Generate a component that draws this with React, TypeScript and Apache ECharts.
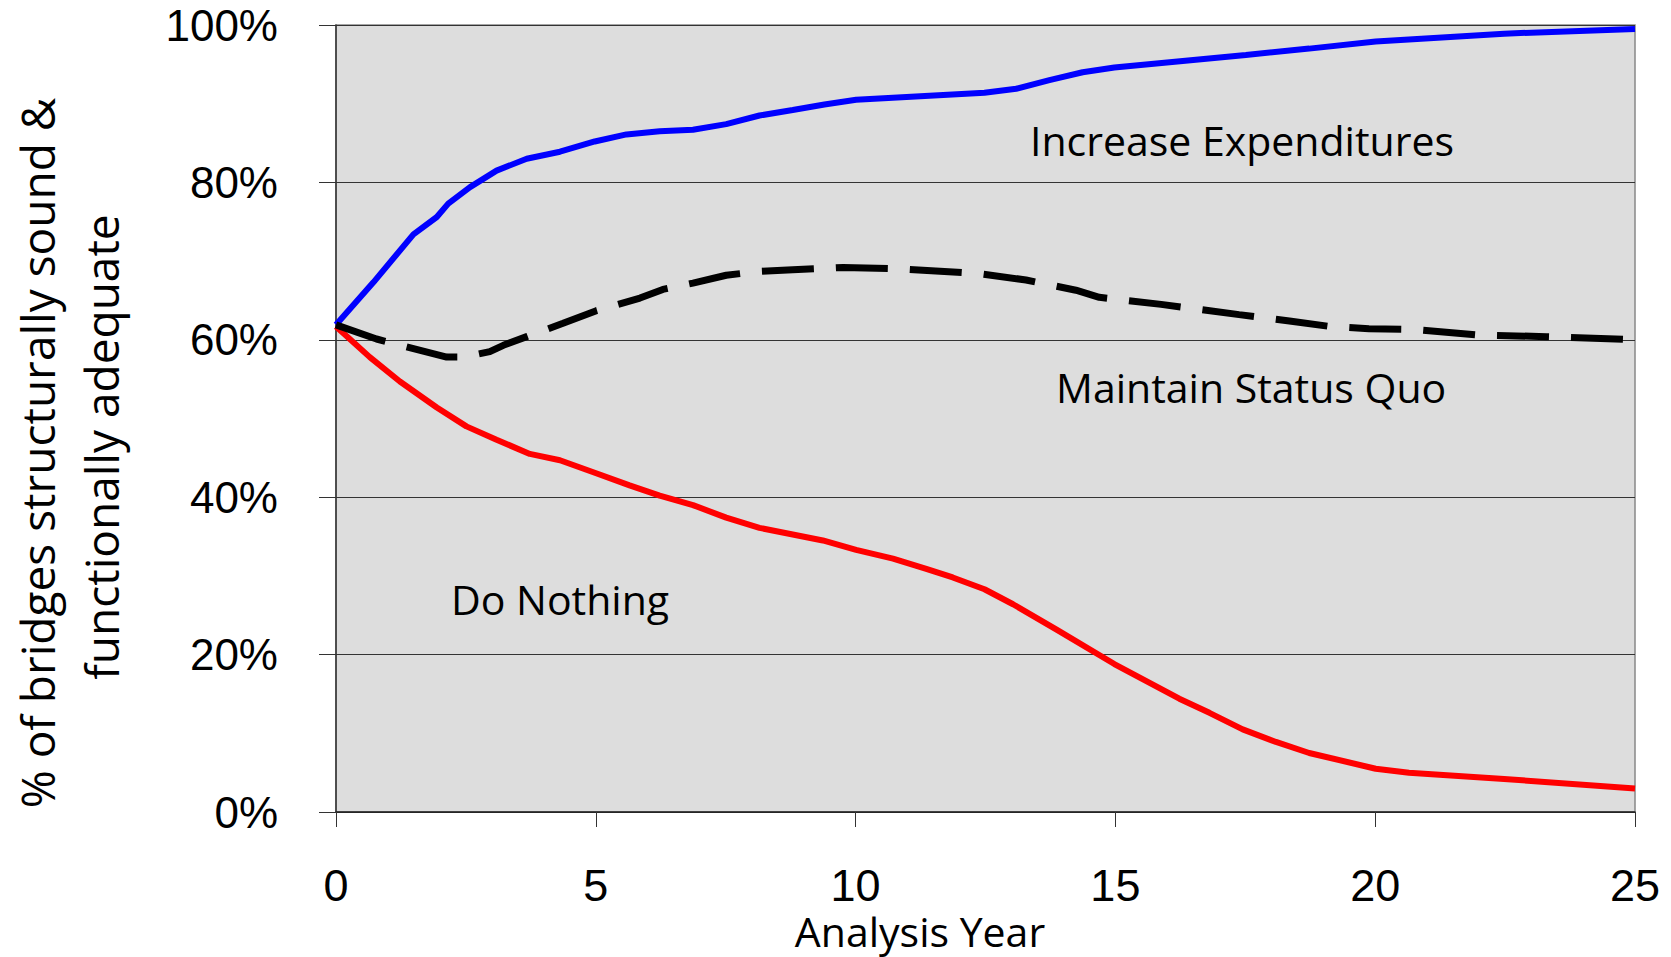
import React, { useEffect, useRef } from "react";
import * as echarts from "echarts";

const xTicks = [0, 5, 10, 15, 20, 25];
const yTicks = [0, 20, 40, 60, 80, 100];

const incYears = [0, 0.72, 1.49, 1.94, 2.16, 2.58, 3.09, 3.67, 4.31, 4.98, 5.59, 6.23, 6.87, 7.51, 8.15, 8.79, 9.4, 10.01, 12.48, 13.09, 13.73, 14.37, 14.98, 17.51, 18.73, 20.01, 22.48, 25];
const incValues = [61.9, 67.3, 73.4, 75.6, 77.3, 79.4, 81.5, 83.0, 83.9, 85.2, 86.1, 86.5, 86.7, 87.4, 88.5, 89.2, 89.9, 90.5, 91.4, 91.9, 93.0, 94.0, 94.6, 96.2, 97.0, 97.9, 98.9, 99.5];

const doYears = [0, 0.65, 1.23, 1.94, 2.51, 3.09, 3.73, 4.31, 4.98, 5.65, 6.23, 6.87, 7.51, 8.15, 9.37, 10.01, 10.72, 11.36, 11.87, 12.48, 13.03, 13.86, 14.98, 16.23, 16.81, 17.45, 18.09, 18.73, 20.01, 20.65, 22.48, 25];
const doValues = [61.7, 57.8, 54.7, 51.4, 49.0, 47.3, 45.5, 44.7, 43.1, 41.5, 40.2, 39.0, 37.4, 36.1, 34.5, 33.3, 32.2, 30.9, 29.8, 28.3, 26.4, 23.2, 18.8, 14.4, 12.6, 10.5, 8.9, 7.5, 5.5, 5.0, 4.2, 3.0];

const sqYears = [0, 0.78, 2.13, 2.45, 2.96, 3.22, 3.67, 4.37, 5.01, 5.85, 6.29, 6.87, 7.51, 8.15, 8.79, 9.76, 10.91, 12.38, 13.28, 14.24, 14.69, 15.88, 17.38, 18.35, 19.12, 19.88, 20.75, 22.0, 23.3, 25];
const sqValues = [61.9, 60.1, 57.8, 57.8, 58.5, 59.3, 60.4, 62.1, 63.7, 65.3, 66.4, 67.2, 68.2, 68.7, 68.9, 69.2, 69.0, 68.4, 67.6, 66.3, 65.4, 64.5, 63.2, 62.4, 61.7, 61.4, 61.3, 60.6, 60.4, 60.0];

const seriesNames = ["Do Nothing", "Increase Expenditures", "Maintain Status Quo"];
const xTitle = "Analysis Year";
const yTitleLines = ["% of bridges structurally sound &", "functionally adequate"];

const pairs = (xs: number[], ys: number[]) => xs.map((x, i) => [x, ys[i]]);

export default function App() {
  const ref = useRef<HTMLDivElement>(null);
  useEffect(() => {
    if (!ref.current) return;
    const chart = echarts.init(ref.current, null, { renderer: "svg" });
    const annoFont = "'Open Sans', sans-serif";
    chart.setOption({
      animation: false,
      backgroundColor: "#ffffff",
      grid: {
        left: 336,
        right: 36,
        top: 25,
        bottom: 145,
        containLabel: false,
        outerBoundsMode: "none",
        show: true,
        backgroundColor: "#dddddd",
        borderColor: "#888888",
        borderWidth: 1.5,
      },
      xAxis: {
        type: "value",
        min: xTicks[0],
        max: xTicks[xTicks.length - 1],
        interval: 5,
        axisLine: { show: true, lineStyle: { color: "#222", width: 1.5 } },
        axisTick: { show: true, length: 15, lineStyle: { color: "#333", width: 1 } },
        axisLabel: {
          fontSize: 45,
          lineHeight: 36,
          fontFamily: "'Liberation Sans', Arial, sans-serif",
          color: "#000",
          margin: 73,
          verticalAlign: "middle",
        },
        splitLine: { show: false },
      },
      yAxis: {
        type: "value",
        min: yTicks[0],
        max: yTicks[yTicks.length - 1],
        interval: 20,
        axisLine: { show: true, lineStyle: { color: "#333", width: 1.5 } },
        axisTick: { show: true, length: 17, lineStyle: { color: "#333", width: 1 } },
        axisLabel: {
          formatter: "{value}%",
          fontSize: 44,
          fontFamily: "'Liberation Sans', Arial, sans-serif",
          color: "#000",
          margin: 58,
        },
        splitLine: { show: true, lineStyle: { color: "#333", width: 1 } },
      },
      series: [
        {
          name: seriesNames[0],
          type: "line",
          data: pairs(doYears, doValues),
          showSymbol: false,
          lineStyle: { color: "#ff0000", width: 6 },
          z: 2,
        },
        {
          name: seriesNames[1],
          type: "line",
          data: pairs(incYears, incValues),
          showSymbol: false,
          lineStyle: { color: "#0000ff", width: 6 },
          z: 3,
        },
        {
          name: seriesNames[2],
          type: "line",
          data: pairs(sqYears, sqValues),
          showSymbol: false,
          lineStyle: { color: "#000000", width: 7, type: [52, 22] },
          z: 4,
        },
      ],
      graphic: [
        {
          type: "text",
          x: 1030,
          y: 140,
          style: { text: seriesNames[1], font: `41px ${annoFont}`, fill: "#000", align: "left", verticalAlign: "middle" },
          z: 10,
        },
        {
          type: "text",
          x: 1056,
          y: 387,
          style: { text: seriesNames[2], font: `41px ${annoFont}`, fill: "#000", align: "left", verticalAlign: "middle" },
          z: 10,
        },
        {
          type: "text",
          x: 451,
          y: 599,
          style: { text: seriesNames[0], font: `41px ${annoFont}`, fill: "#000", align: "left", verticalAlign: "middle" },
          z: 10,
        },
        {
          type: "text",
          x: 920,
          y: 931,
          style: { text: xTitle, font: `41px ${annoFont}`, fill: "#000", align: "center", verticalAlign: "middle", lineHeight: 36 },
          z: 10,
        },
        {
          type: "text",
          x: 37,
          y: 453,
          rotation: Math.PI / 2,
          style: { text: yTitleLines[0], font: `46px ${annoFont}`, fill: "#000", align: "center", verticalAlign: "middle" },
          z: 10,
        },
        {
          type: "text",
          x: 101,
          y: 447,
          rotation: Math.PI / 2,
          style: { text: yTitleLines[1], font: `46px ${annoFont}`, fill: "#000", align: "center", verticalAlign: "middle" },
          z: 10,
        },
      ],
    });
    return () => chart.dispose();
  }, []);
  return (
    <div
      ref={ref}
      style={{ position: "absolute", left: 0, top: 0, width: 1671, height: 957 }}
    />
  );
}
